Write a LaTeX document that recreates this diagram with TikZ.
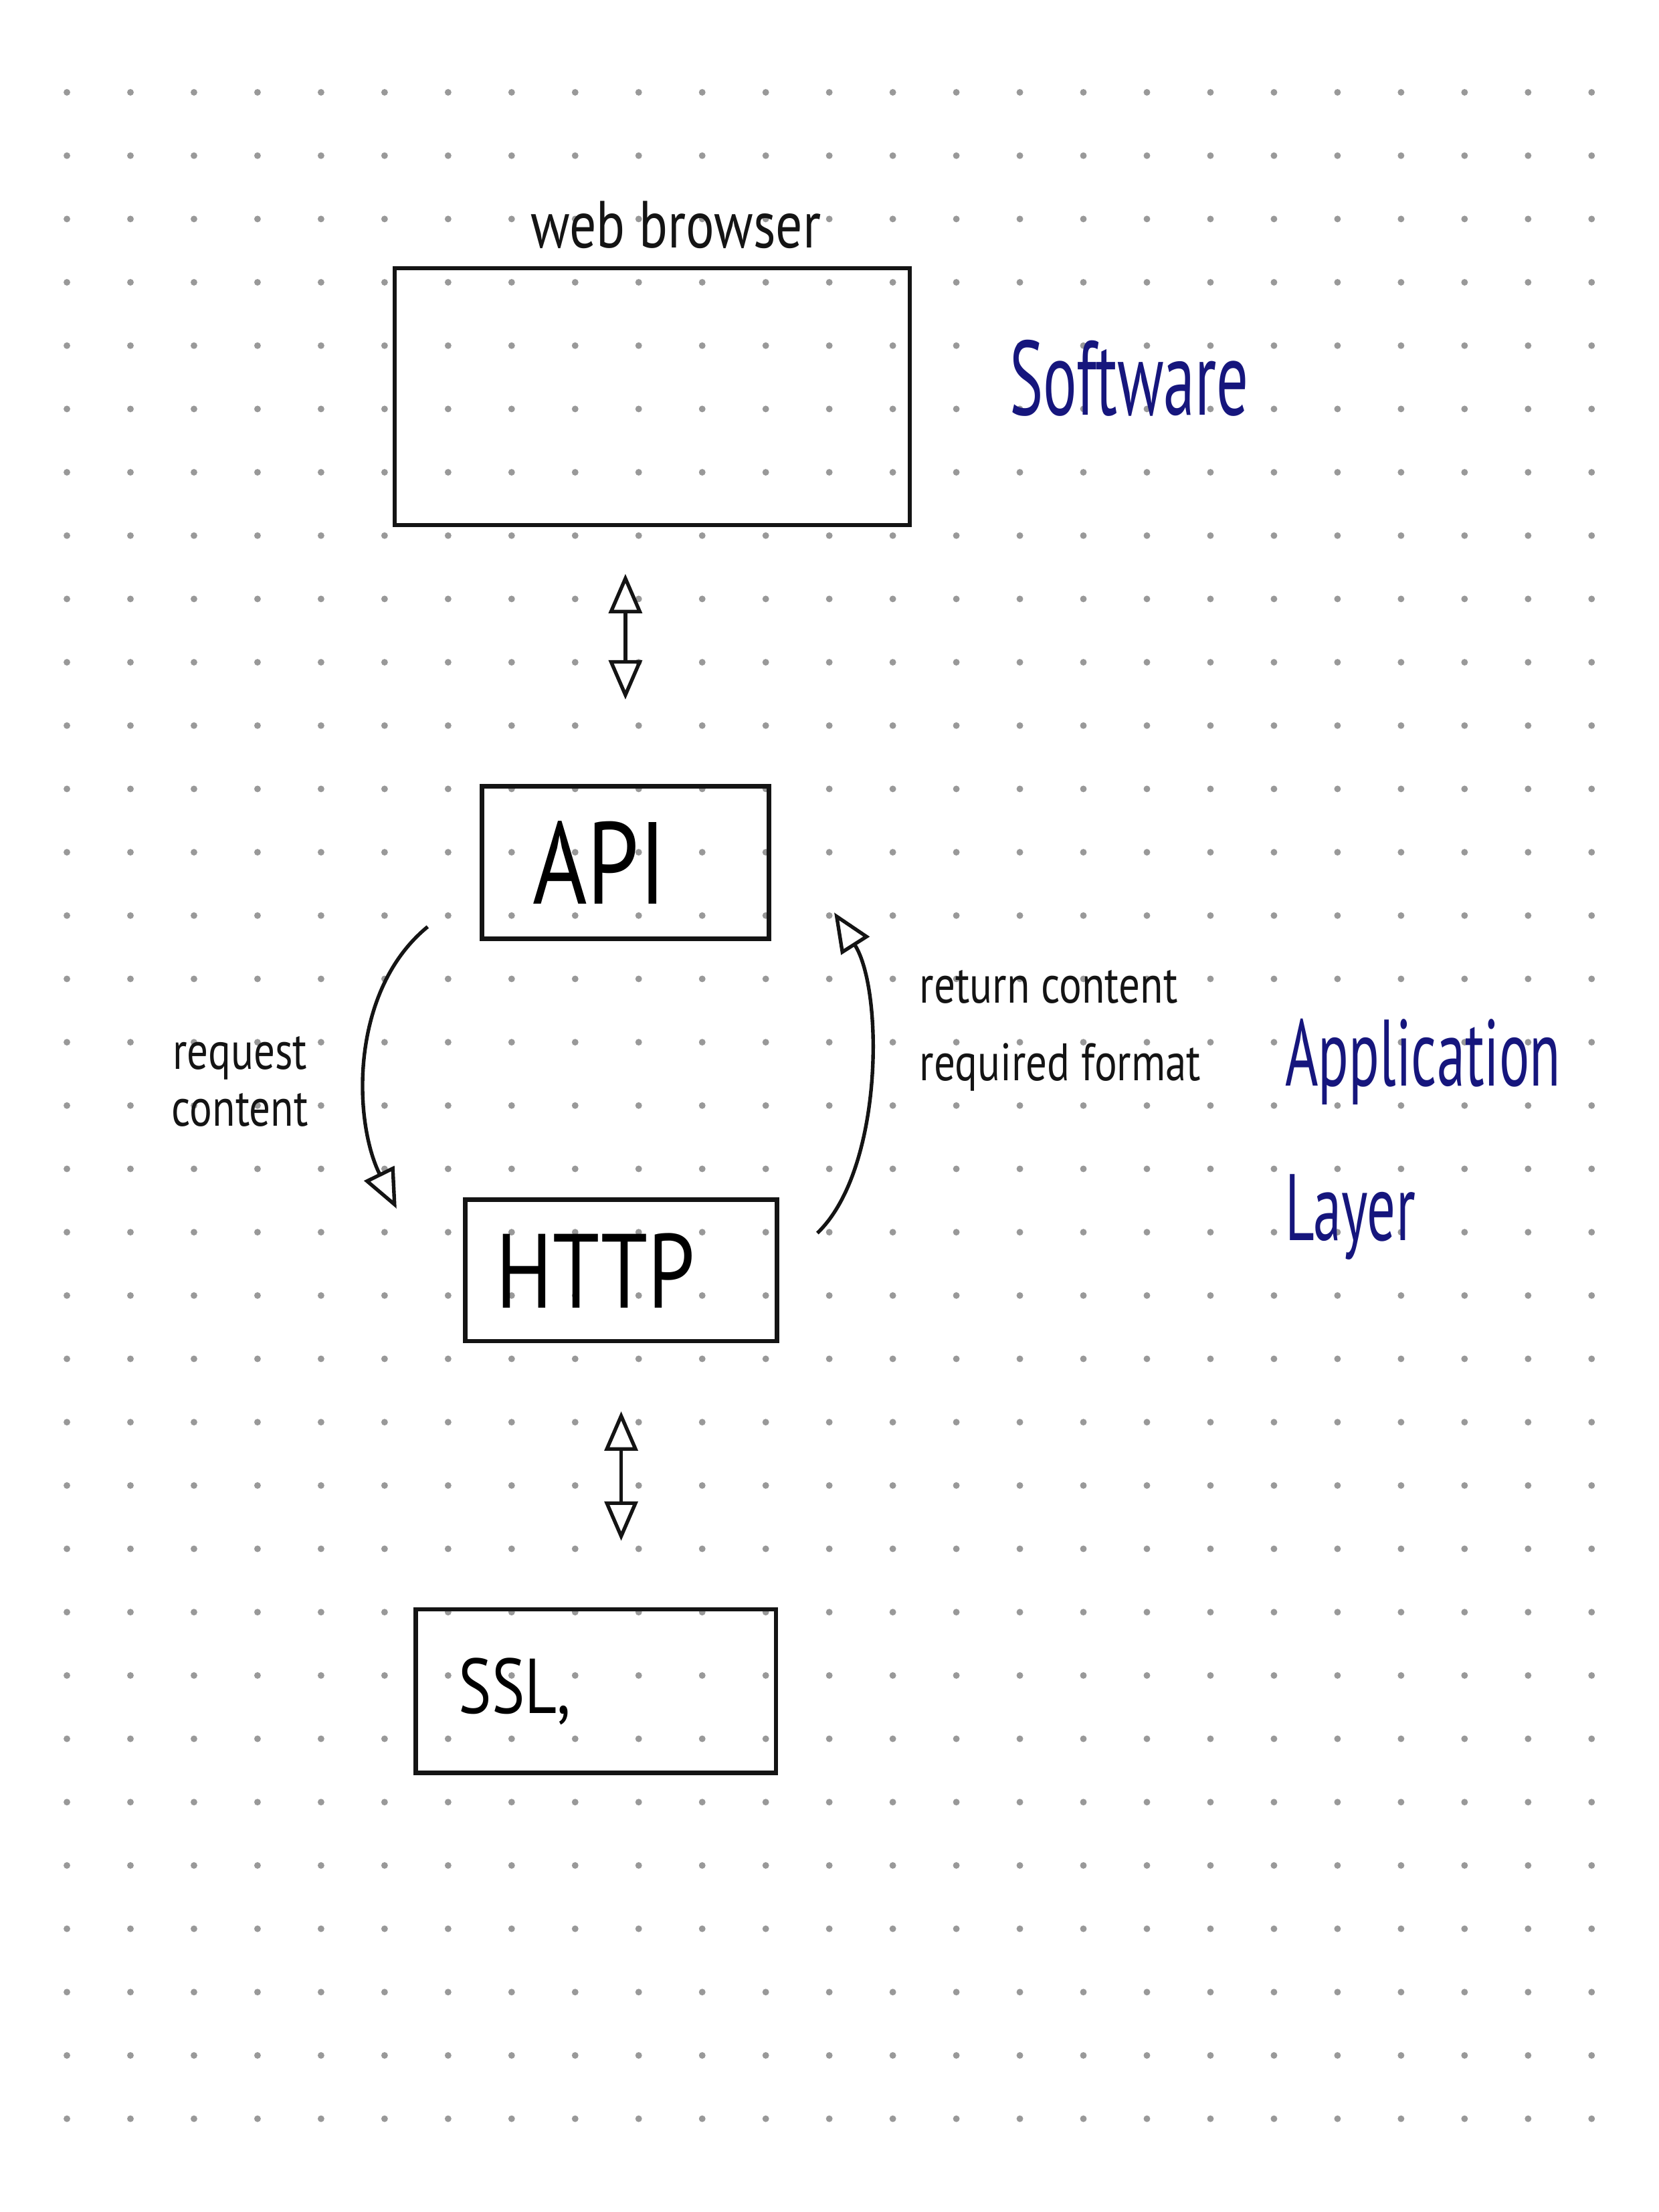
\documentclass[tikz,border=0pt]{standalone}
\usepackage{fontspec}
\setmainfont{PT Sans}
\newfontfamily\hand[FakeStretch=0.8]{PT Sans}
\newfontfamily\bluehand[FakeStretch=0.6]{PT Sans}
\usetikzlibrary{arrows.meta,positioning}
\definecolor{ink}{RGB}{20,20,20}
\definecolor{pen}{RGB}{22,22,125}
\tikzset{>=stealth,
  sketchbox/.style={draw=ink, line width=1.6pt, inner sep=0pt, align=left, font=\hand\fontsize{38}{40}\selectfont},
  link/.style={draw=ink, line width=1.3pt, -{Triangle[open,length=5mm,width=4.2mm]}},
  twoway/.style={link, {Triangle[open,length=5mm,width=4.2mm]}-{Triangle[open,length=5mm,width=4.2mm]}},
  note/.style={font=\hand\fontsize{19}{22}\selectfont, text=ink},
  side/.style={font=\bluehand\fontsize{34}{36}\selectfont, text=pen}}

\begin{document}
\begin{tikzpicture}[x=0.17872mm, y=-0.17872mm]
    \useasboundingbox (0,0) rectangle (1175,1567);
    % dotted paper
    \foreach \i in {0,...,24}
        \foreach \j in {0,...,32}
            \fill[gray!80] (47.4+45*\i, 65.4+44.86*\j) circle (0.42mm);
    \node[sketchbox, minimum width=65.2mm, minimum height=32.5mm] (wb) at (462,281) {};
    \node[note, font=\hand\fontsize{24}{26}\selectfont, above=1mm of wb, xshift=3mm] (wbtxt) {web browser};
    \node[side, font=\bluehand\fontsize{38}{40}\selectfont] (soft) at (800,268) {Software};
    \node[sketchbox, minimum width=36.3mm, minimum height=19.3mm, text width=23.5mm,
          font=\hand\fontsize{42}{44}\selectfont] (api) at (443,611) {API};
    \node[sketchbox, minimum width=39.5mm, minimum height=17.9mm, text width=31.7mm] (http) at (440,900) {HTTP};
    \node[sketchbox, minimum width=45.6mm, minimum height=20.7mm, text width=34.7mm,
          font=\hand\fontsize{28}{30}\selectfont] (ssl) at (422,1198) {SSL,};
    \node[side] (appl) at (1008,752) {Application};
    \node[side, anchor=west] (layer) at (appl.west |- 0,862) {Layer};
    % connectors
    \draw[twoway, shorten <=5.9mm, shorten >=10.7mm] (wb.south -| api.north) -- (api.north);
    \draw[twoway, shorten <=8.6mm, shorten >=8.4mm] (http.south) -- (http.south |- ssl.north);
    \draw[link] ([shift={(-6.6mm,1.8mm)}]api.south west) .. controls +(-55,45) and +(-31,-63) ..
        node[note, midway, left=6mm, yshift=-3mm, align=center, font=\hand\fontsize{19}{20.5}\selectfont] {request\\content}
        ([shift={(-8.4mm,-1.4mm)}]http.north west);
    \draw[link] ([shift={(4.8mm,-4.5mm)}]http.north east) .. controls +(47,-45) and +(35,55) ..
        node[note, midway, right=5mm, yshift=6mm, align=left, font=\hand\fontsize{19}{28}\selectfont] {return content\\required format}
        ([shift={(8.0mm,3.6mm)}]api.south east);
\end{tikzpicture}
\end{document}
